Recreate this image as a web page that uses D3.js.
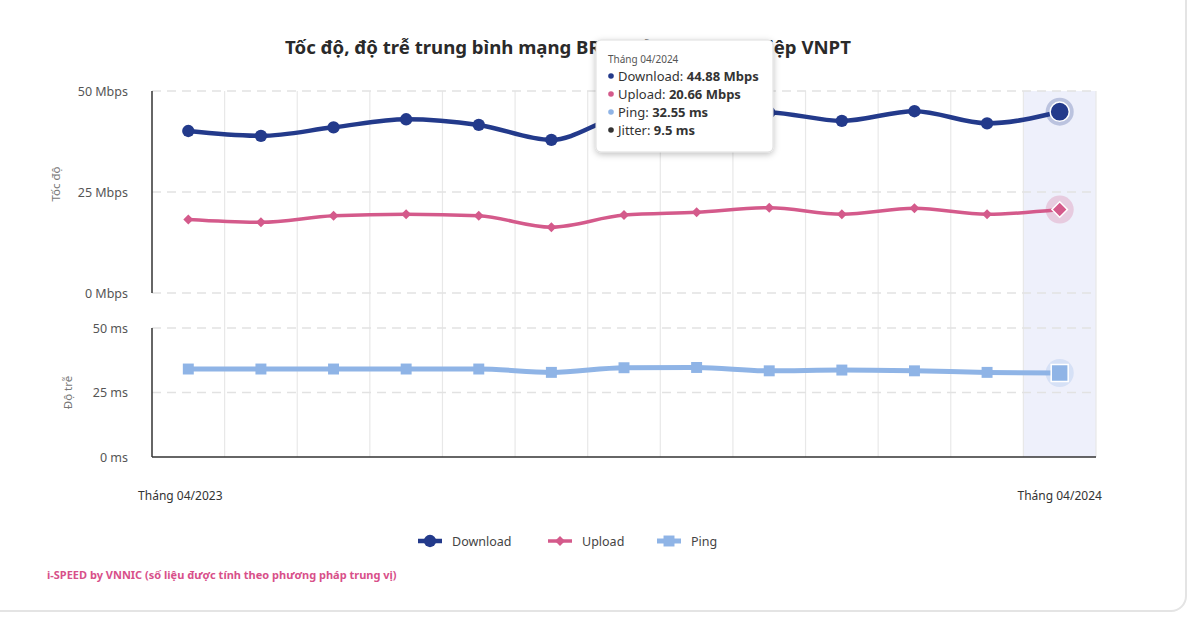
<!DOCTYPE html>
<html>
<head>
<meta charset="utf-8">
<script src="https://cdn.jsdelivr.net/npm/d3@7"></script>
<style>
  html, body { margin: 0; padding: 0; background: #fff; }
  body { width: 1190px; height: 620px; overflow: hidden; font-family: 'Noto Sans', sans-serif; }
  .card { position: absolute; left: -20px; top: -20px; width: 1207px; height: 632px; border: 2px solid #e4e4e4; border-radius: 16px; box-sizing: border-box; }
  svg { position: absolute; left: 0; top: 0; }
</style>
</head>
<body>
<div class="card"></div>
<div class="visual"></div>
<script>
const [width, height] = [1190, 620];
const TITLE = 'Tốc độ, độ trễ trung bình mạng BRCĐ của doanh nghiệp VNPT';
const FOOTER = 'i-SPEED by VNNIC (số liệu được tính theo phương pháp trung vị)';

const months = ['04/2023', '05/2023', '06/2023', '07/2023', '08/2023', '09/2023', '10/2023',
  '11/2023', '12/2023', '01/2024', '02/2024', '03/2024', '04/2024'];
const download = [40.1, 38.9, 41.0, 43.0, 41.6, 37.9, 43.8, 44.8, 44.7, 42.6, 45.0, 42.0, 44.88];
const upload = [18.2, 17.5, 19.1, 19.5, 19.1, 16.3, 19.3, 20.0, 21.1, 19.5, 21.0, 19.5, 20.66];
const ping = [34.1, 34.1, 34.1, 34.1, 34.1, 32.8, 34.6, 34.7, 33.4, 33.7, 33.4, 32.8, 32.55];
const jitter_last = 9.5;
const speed_ticks = [0, 25, 50];
const latency_ticks = [0, 25, 50];

const colors = { download: '#233a8b', upload: '#d45a8b', ping: '#8fb4e6' };

const svg = d3.select('.visual').append('svg').attr('width', width).attr('height', height);

const x_scale = d3.scaleBand().domain(months).range([152, 1096]).padding(0);
const cx = (i) => x_scale(months[i]) + x_scale.bandwidth() / 2;
const y_speed = d3.scaleLinear().domain([0, 50]).range([293, 91]);
const y_lat = d3.scaleLinear().domain([0, 50]).range([457, 328]);

// highlighted (hovered) month
const last = months.length - 1;
svg.append('rect')
  .attr('x', x_scale(months[last]))
  .attr('y', y_speed(50))
  .attr('width', x_scale.bandwidth())
  .attr('height', y_lat(0) - y_speed(50))
  .attr('fill', '#eef0fb');

// vertical grid
svg.append('g')
  .selectAll('line')
  .data(months.slice(1).map((m) => x_scale(m)).concat([x_scale.range()[1]]))
  .enter()
  .append('line')
  .attr('x1', (d) => d).attr('x2', (d) => d)
  .attr('y1', y_speed(50)).attr('y2', y_lat(0))
  .attr('stroke', '#e8e8e8').attr('stroke-width', 1.2);

// horizontal dashed grid
const gridRows = speed_ticks.map((t) => y_speed(t)).concat(latency_ticks.slice(1).map((t) => y_lat(t)));
svg.append('g')
  .selectAll('line')
  .data(gridRows)
  .enter()
  .append('line')
  .attr('x1', x_scale.range()[0]).attr('x2', x_scale.range()[1])
  .attr('y1', (d) => d).attr('y2', (d) => d)
  .attr('stroke', '#e2e2e2').attr('stroke-width', 1.5)
  .attr('stroke-dasharray', '9,6');

// y axes
const styleAxis = (g, size) => {
  g.select('.domain').remove();
  g.selectAll('.tick line').remove();
  g.selectAll('.tick text')
    .attr('fill', '#555')
    .attr('font-size', size)
    .attr('font-family', "'Noto Sans', sans-serif");
};

svg.append('g')
  .attr('transform', 'translate(128,0)')
  .call(d3.axisLeft(y_speed).tickValues(speed_ticks).tickFormat((d) => d + ' Mbps').tickSize(0).tickPadding(0))
  .call((g) => styleAxis(g, 12.5));

svg.append('g')
  .attr('transform', 'translate(128,0)')
  .call(d3.axisLeft(y_lat).tickValues(latency_ticks).tickFormat((d) => d + ' ms').tickSize(0).tickPadding(0))
  .call((g) => styleAxis(g, 12.5));

svg.append('line')
  .attr('x1', 152).attr('x2', 152)
  .attr('y1', y_speed(50)).attr('y2', y_speed(0))
  .attr('stroke', '#333').attr('stroke-width', 1.5);
svg.append('line')
  .attr('x1', 152).attr('x2', 152)
  .attr('y1', y_lat(50)).attr('y2', y_lat(0))
  .attr('stroke', '#333').attr('stroke-width', 1.5);
svg.append('line')
  .attr('x1', x_scale.range()[0]).attr('x2', x_scale.range()[1])
  .attr('y1', y_lat(0)).attr('y2', y_lat(0))
  .attr('stroke', '#333').attr('stroke-width', 1.5);

svg.append('text')
  .attr('transform', `translate(60, ${(y_speed(50) + y_speed(0)) / 2 - 8}) rotate(-90)`)
  .attr('text-anchor', 'middle')
  .attr('fill', '#777').attr('font-size', 11.5)
  .text('Tốc độ');
svg.append('text')
  .attr('transform', `translate(72, ${(y_lat(50) + y_lat(0)) / 2}) rotate(-90)`)
  .attr('text-anchor', 'middle')
  .attr('fill', '#777').attr('font-size', 11.5)
  .text('Độ trễ');

// x axis: only first and last month
svg.append('g')
  .attr('transform', `translate(0, ${y_lat(0) + 34})`)
  .call(d3.axisBottom(x_scale).tickValues([months[0], months[last]]).tickFormat((d) => 'Tháng ' + d).tickSize(0).tickPadding(0))
  .call((g) => {
    g.select('.domain').remove();
    g.selectAll('.tick text').attr('fill', '#333').attr('font-size', 12)
      .attr('font-family', "'Noto Sans', sans-serif");
    g.selectAll('.tick').filter((d) => d === months[0]).select('text').attr('dx', -8);
  });

// series
const series = [
  { key: 'download', values: download, y: y_speed, width: 4.5, symbol: d3.symbolCircle, size: 120, rot: 0 },
  { key: 'upload', values: upload, y: y_speed, width: 3.5, symbol: d3.symbolSquare, size: 50, rot: 45 },
  { key: 'ping', values: ping, y: y_lat, width: 5, symbol: d3.symbolSquare, size: 120, rot: 0 },
];

series.forEach((s) => {
  const line = d3.line()
    .x((d, i) => cx(i))
    .y((d) => s.y(d))
    .curve(d3.curveMonotoneX);

  svg.append('path')
    .datum(s.values)
    .attr('d', line)
    .attr('fill', 'none')
    .attr('stroke', colors[s.key])
    .attr('stroke-width', s.width)
    .attr('stroke-linejoin', 'round');

  svg.append('g')
    .selectAll('path')
    .data(s.values.slice(0, last))
    .enter()
    .append('path')
    .attr('d', d3.symbol().type(s.symbol).size(s.size))
    .attr('transform', (d, i) => `translate(${cx(i)},${s.y(d)}) rotate(${s.rot})`)
    .attr('fill', colors[s.key]);

  // hovered point
  const hx = cx(last), hy = s.y(s.values[last]);
  svg.append('circle')
    .attr('cx', hx).attr('cy', hy)
    .attr('r', 14)
    .attr('fill', colors[s.key]).attr('opacity', 0.25);
  svg.append('path')
    .attr('d', d3.symbol().type(s.symbol).size(s.size * 2.4))
    .attr('transform', `translate(${hx},${hy}) rotate(${s.rot})`)
    .attr('fill', colors[s.key])
    .attr('stroke', '#fff').attr('stroke-width', 1.5);
});

// title
svg.append('text')
  .attr('x', 568).attr('y', 54)
  .attr('text-anchor', 'middle')
  .attr('font-size', 18.6).attr('font-weight', 'bold').attr('fill', '#2a2a2a')
  .text(TITLE);

// legend
const legend = svg.append('g').attr('transform', 'translate(418, 541)');
const legendItems = [
  { label: 'Download', s: series[0], x: 0 },
  { label: 'Upload', s: series[1], x: 130 },
  { label: 'Ping', s: series[2], x: 239 },
];
legendItems.forEach((item) => {
  const g = legend.append('g').attr('transform', `translate(${item.x},0)`);
  g.append('line').attr('x1', 0).attr('x2', 24)
    .attr('stroke', colors[item.s.key]).attr('stroke-width', item.s.width);
  g.append('path')
    .attr('d', d3.symbol().type(item.s.symbol).size(item.s.size))
    .attr('transform', `translate(12,0) rotate(${item.s.rot})`)
    .attr('fill', colors[item.s.key]);
  g.append('text').attr('x', 34).attr('y', 4.5)
    .attr('font-size', 12.5).attr('fill', '#444')
    .text(item.label);
});

// footer
svg.append('text')
  .attr('x', 47).attr('y', 579)
  .attr('font-size', 11).attr('font-weight', 'bold').attr('fill', '#d8508a')
  .text(FOOTER);

// tooltip
const defs = svg.append('defs');
const filt = defs.append('filter').attr('id', 'shadow').attr('x', '-20%').attr('y', '-20%').attr('width', '140%').attr('height', '150%');
filt.append('feDropShadow').attr('dx', 0).attr('dy', 2).attr('stdDeviation', 3).attr('flood-color', '#000').attr('flood-opacity', 0.25);

const tip = svg.append('g').attr('transform', 'translate(596,40)');
tip.append('rect').attr('width', 177).attr('height', 112).attr('rx', 5)
  .attr('fill', '#fff').attr('stroke', '#ddd').attr('filter', 'url(#shadow)');
tip.append('text').attr('x', 12).attr('y', 23)
  .attr('font-size', 10).attr('fill', '#555')
  .text('Tháng ' + months[last]);
const rows = [
  { label: 'Download', value: download[last] + ' Mbps', color: colors.download },
  { label: 'Upload', value: upload[last] + ' Mbps', color: colors.upload },
  { label: 'Ping', value: ping[last] + ' ms', color: colors.ping },
  { label: 'Jitter', value: jitter_last + ' ms', color: '#333' },
];
rows.forEach((r, i) => {
  const y = 36 + i * 18;
  tip.append('circle').attr('cx', 15).attr('cy', y).attr('r', 2.8).attr('fill', r.color);
  const t = tip.append('text').attr('x', 22).attr('y', y + 4.5).attr('font-size', 13).attr('fill', '#333');
  t.append('tspan').text(r.label + ': ');
  t.append('tspan').attr('font-weight', 'bold').text(r.value);
});
</script>
</body>
</html>
